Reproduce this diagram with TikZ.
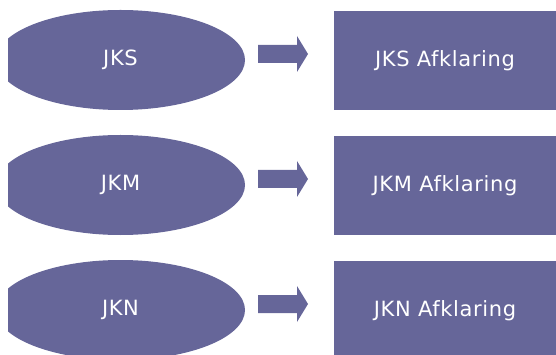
\documentclass[tikz,border=0pt]{standalone}
\usepackage{fontspec}
\setmainfont{DejaVu Sans}
\newfontfamily\boxfont[LetterSpace=3]{DejaVu Sans}
\usetikzlibrary{shapes.geometric}
\definecolor{boxblue}{RGB}{102,102,153}

\tikzset{
  afd/.style={fill=boxblue, text=white, draw=none, inner sep=0pt,
    font=\boxfont\fontsize{21}{24}\selectfont},
  srcnode/.style={afd, ellipse, minimum width=249pt, minimum height=100pt},
  dstnode/.style={afd, rectangle, minimum width=222pt, minimum height=99pt},
}

\begin{document}
\begin{tikzpicture}[x=1pt,y=-1pt]
\useasboundingbox (0,0) rectangle (556,355);
\clip (8,0) rectangle (556,355);
\foreach \lbl [count=\i] in {JKS,JKM,JKN} {
  \pgfmathsetmacro{\yy}{60+125*(\i-1)}
  \node[srcnode] (src\i) at (120.5,\yy) {\lbl};
  \node[dstnode] (dst\i) at (445,\yy+0.5) {\lbl\ Afklaring};
  % block arrow
  \fill[boxblue] (258,\yy-15) -- (297,\yy-15) -- (297,\yy-24) -- (308,\yy-6)
    -- (297,\yy+12) -- (297,\yy+3) -- (258,\yy+3) -- cycle;
}
\end{tikzpicture}
\end{document}
